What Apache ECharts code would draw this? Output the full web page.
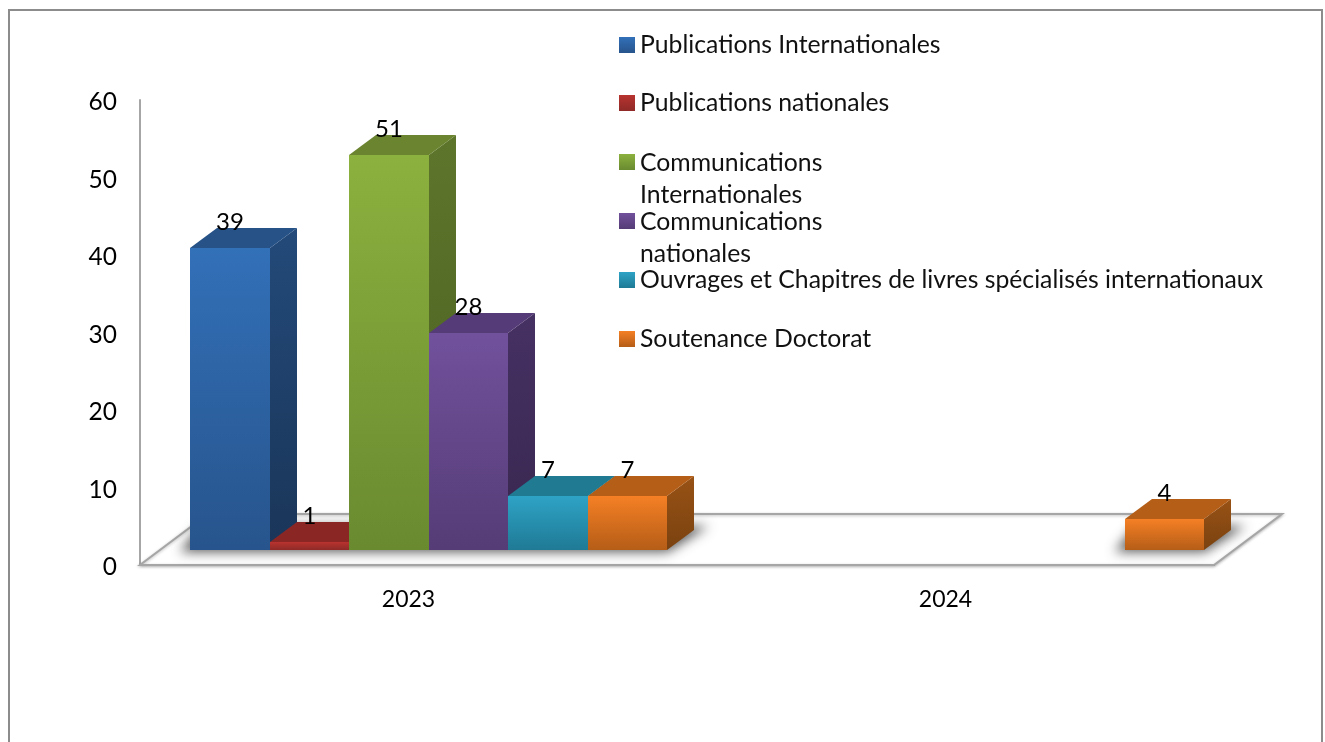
<!DOCTYPE html>
<html>
<head>
<meta charset="utf-8">
<style>
  html, body { margin: 0; padding: 0; background: #fff; }
  #chart { width: 1325px; height: 742px; }
</style>
</head>
<body>
<div id="chart"></div>
<script src="https://cdn.jsdelivr.net/npm/echarts@6/dist/echarts.min.js"></script>
<script>
const categories = ['2023', '2024']
const seriesNames = [
  'Publications Internationales',
  'Publications nationales',
  'Communications Internationales',
  'Communications nationales',
  'Ouvrages et Chapitres de livres spécialisés internationaux',
  'Soutenance Doctorat'
]
const legendLabels = [
  'Publications Internationales',
  'Publications nationales',
  'Communications\nInternationales',
  'Communications\nnationales',
  'Ouvrages et Chapitres de livres spécialisés internationaux',
  'Soutenance Doctorat'
]
const pubInternationales = [39, null]
const pubNationales = [1, null]
const comInternationales = [51, null]
const comNationales = [28, null]
const ouvrages = [7, null]
const soutenance = [7, 4]
const allValues = [pubInternationales, pubNationales, comInternationales, comNationales, ouvrages, soutenance]

// couleurs: face avant (haut, bas), dessus, cote (haut, bas)
const palette = [
  { front: ['#3270b8', '#27548c'], top: '#265287', side: ['#234a7a', '#1a3558'] },
  { front: ['#b8332f', '#8e2a28'], top: '#8a2725', side: ['#7a2220', '#6a1e1c'] },
  { front: ['#8cb13e', '#6a8a30'], top: '#6b8430', side: ['#5d752b', '#4a5f22'] },
  { front: ['#71519c', '#553c76'], top: '#553c78', side: ['#463163', '#38274f'] },
  { front: ['#2ea3c6', '#1f7a95'], top: '#207a92', side: ['#1b6a80', '#175a6d'] },
  { front: ['#f58025', '#b55d17'], top: '#b55e17', side: ['#985215', '#7a4210'] }
]

const DEPTH_X = 27
const DEPTH_Y = 20
const BASE_LIFT = 15
const FLOOR_X = 68
const FLOOR_Y = 51
const BAR_START = 0.0931
const BAR_WIDTH = 0.1482
const OFFSCREEN = 3000

const grad = (stops) => ({
  type: 'linear', x: 0, y: 0, x2: 0, y2: 1,
  colorStops: [{ offset: 0, color: stops[0] }, { offset: 1, color: stops[1] }]
})

// le sol en perspective
const renderFloor = (params) => {
  const r = params.coordSys
  const left = r.x
  const right = r.x + r.width
  const y = r.y + r.height
  return {
    type: 'polygon',
    silent: true,
    shape: { points: [[left, y], [right, y], [right + FLOOR_X, y - FLOOR_Y], [left + FLOOR_X, y - FLOOR_Y]] },
    style: {
      fill: '#fff', stroke: '#a6a6a6', lineWidth: 2,
      shadowColor: 'rgba(0,0,0,0.25)', shadowBlur: 3, shadowOffsetY: 1
    }
  }
}

// ombre portee: le polygone est hors cadre, seule son ombre floue se voit
const renderShadow = (params, api) => {
  const c = api.coord([api.value(0), 0])
  const band = api.size([1, 0])[0]
  const start = c[0] - band / 2 + band * BAR_START
  const x0 = start + api.value(1) * band * BAR_WIDTH - OFFSCREEN
  const x1 = start + (api.value(2) + 1) * band * BAR_WIDTH - OFFSCREEN
  const y = c[1] - BASE_LIFT
  return {
    type: 'polygon',
    silent: true,
    shape: { points: [[x0 - 10, y + 2], [x1, y + 2], [x1 + DEPTH_X + 14, y - 24], [x0 + 10, y - 24]] },
    style: { fill: '#000', shadowColor: 'rgba(50,50,50,0.8)', shadowBlur: 12, shadowOffsetX: OFFSCREEN }
  }
}

const renderBar = (params, api) => {
  const v = api.value(1)
  if (v == null || isNaN(v)) return
  const slot = params.seriesIndex - 2
  const idx = api.value(0)
  const base = api.coord([idx, 0])
  const band = api.size([1, 0])[0]
  const w = band * BAR_WIDTH
  const x0 = Math.round(base[0] - band / 2 + band * BAR_START + slot * w)
  const x1 = Math.round(base[0] - band / 2 + band * BAR_START + (slot + 1) * w)
  const yB = Math.round(base[1] - BASE_LIFT)
  const yT = Math.round(api.coord([idx, v])[1] - BASE_LIFT)
  const c = palette[slot]
  return {
    type: 'group',
    children: [
      {
        type: 'polygon',
        shape: { points: [[x1, yT], [x1 + DEPTH_X, yT - DEPTH_Y], [x1 + DEPTH_X, yB - DEPTH_Y], [x1, yB]] },
        style: { fill: grad(c.side) }
      },
      {
        type: 'polygon',
        shape: { points: [[x0, yT], [x1, yT], [x1 + DEPTH_X, yT - DEPTH_Y], [x0 + DEPTH_X, yT - DEPTH_Y]] },
        style: { fill: c.top }
      },
      {
        type: 'rect',
        shape: { x: x0, y: yT, width: x1 - x0, height: yB - yT },
        style: { fill: grad(c.front) }
      },
      {
        type: 'text',
        z2: 10,
        style: {
          text: String(v), x: (x0 + x1) / 2, y: yT - DEPTH_Y + 6,
          align: 'center', verticalAlign: 'bottom',
          font: '24px Lato', fill: '#000'
        }
      }
    ]
  }
}

// premier et dernier rang occupes pour chaque annee
const shadowData = categories.map((c, i) => {
  const slots = allValues.map((vals, s) => (vals[i] != null ? s : -1)).filter((s) => s >= 0)
  return [i, slots[0], slots[slots.length - 1]]
})

const legendTops = [29, 87, 147, 206, 264, 323]
const legends = seriesNames.map((name, i) => {
  const twoLines = legendLabels[i].includes('\n')
  const h = twoLines ? 50 : 16
  const end = 16 / h
  return {
    data: [name],
    left: 619,
    top: legendTops[i],
    padding: 0,
    selectedMode: false,
    itemWidth: 16,
    itemHeight: h,
    icon: twoLines ? 'path://M0,0H16V16H0Z M0,50L0,50' : 'rect',
    formatter: () => legendLabels[i],
    itemStyle: {
      color: {
        type: 'linear', x: 0, y: 0, x2: 0, y2: 1,
        colorStops: [
          { offset: 0, color: palette[i].front[0] },
          { offset: end, color: palette[i].front[1] },
          { offset: 1, color: palette[i].front[1] }
        ]
      }
    },
    textStyle: { fontFamily: 'Lato', fontSize: 24.75, color: '#111', lineHeight: 32 }
  }
})

const chart = echarts.init(document.getElementById('chart'))
chart.setOption({
  animation: false,
  backgroundColor: '#fff',
  legend: legends,
  grid: { left: 140, top: 100, width: 1074, height: 465 },
  xAxis: {
    type: 'category',
    data: categories,
    axisTick: { show: false },
    axisLine: { lineStyle: { color: '#a6a6a6', width: 2 } },
    axisLabel: { color: '#000', fontFamily: 'Lato', fontSize: 23, margin: 23 }
  },
  yAxis: {
    type: 'value',
    min: 0,
    max: 60,
    interval: 10,
    splitLine: { show: false },
    axisTick: { show: false },
    axisLine: { show: true, lineStyle: { color: '#a6a6a6', width: 2 } },
    axisLabel: {
      margin: 23,
      formatter: '{v|{value}}',
      rich: { v: { color: '#000', fontFamily: 'Lato', fontSize: 24.5, padding: [5, 0, 0, 0] } }
    }
  },
  graphic: [{
    type: 'polyline',
    silent: true,
    shape: { points: [[9, 742], [9, 10], [1322, 10], [1322, 742]] },
    style: { stroke: '#8c8c8c', lineWidth: 2, fill: null }
  }],
  series: [
    { name: 'floor', type: 'custom', renderItem: renderFloor, data: [[0, 0]], encode: { x: 0, y: 1 }, clip: false, silent: true },
    { name: 'shadow', type: 'custom', renderItem: renderShadow, data: shadowData, encode: { x: 0 }, clip: false, silent: true }
  ].concat(seriesNames.map((name, i) => ({
    name,
    type: 'custom',
    renderItem: renderBar,
    data: allValues[i].map((v, k) => [k, v]),
    encode: { x: 0, y: 1 },
    clip: false,
    itemStyle: { color: palette[i].front[0] }
  })))
})
</script>
</body>
</html>
